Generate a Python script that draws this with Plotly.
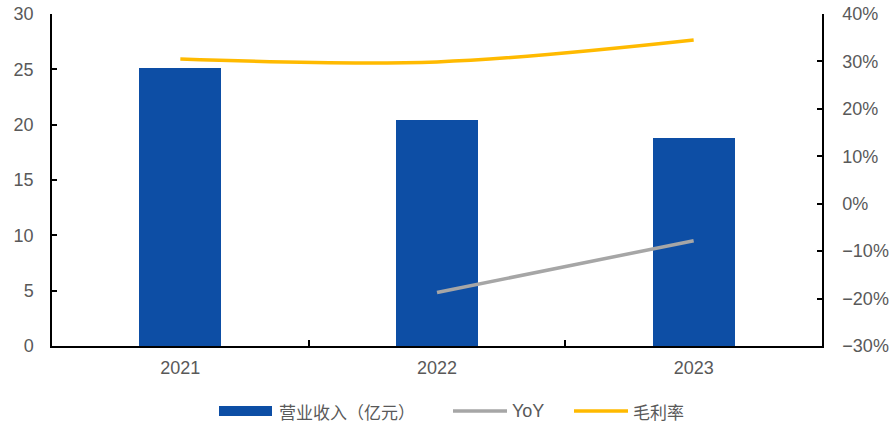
import plotly.graph_objects as go

# Revenue (100 million CNY), YoY growth and gross margin by year
years = ["2021", "2022", "2023"]
revenue = [25.08, 20.40, 18.80]
yoy = [None, -0.187, -0.078]
gross_margin = [0.305, 0.299, 0.345]

legend_names = ["营业收入（亿元）", "YoY", "毛利率"]

BLUE = "#0D4EA5"
GRAY = "#A6A6A6"
GOLD = "#FFBA00"
TEXT = "#595959"
LATIN = "Liberation Sans, Arial, sans-serif"
CJK = "Noto Sans CJK SC, sans-serif"
FS = 18

W, H = 889, 425
ML, MR, MT, MB = 52, 67, 14, 79
PW, PH = W - ML - MR, H - MT - MB

fig = go.Figure()
fig.add_trace(go.Bar(x=years, y=revenue, name=legend_names[0],
                     marker=dict(color=BLUE, line=dict(width=0)), width=0.32))
fig.add_trace(go.Scatter(x=years, y=yoy, name=legend_names[1], yaxis="y2",
                         mode="lines", line=dict(color=GRAY, width=3.5)))
fig.add_trace(go.Scatter(x=years, y=gross_margin, name=legend_names[2], yaxis="y2",
                         mode="lines", line=dict(color=GOLD, width=3.5, shape="spline",
                                                 smoothing=1.0)))

fig.update_layout(
    width=W, height=H,
    margin=dict(l=ML, r=MR, t=MT, b=MB),
    plot_bgcolor="white", paper_bgcolor="white",
    showlegend=False,
    bargap=0,
    font=dict(family=LATIN, size=FS, color=TEXT),
    xaxis=dict(type="category", showline=True, linecolor="black", linewidth=1.5,
               ticks="inside", tickson="boundaries", ticklen=6, tickcolor="black",
               tickwidth=1.5, showgrid=False, ticklabelstandoff=5, automargin=False,
               tickfont=dict(family=LATIN, size=FS, color=TEXT)),
    yaxis=dict(range=[0, 30], dtick=5, showline=True, linecolor="black", linewidth=1.5,
               ticks="inside", ticklen=5, tickcolor="black", tickwidth=1.5,
               showgrid=False, zeroline=False, ticklabelstandoff=13, automargin=False,
               tickfont=dict(family=LATIN, size=FS, color=TEXT)),
    yaxis2=dict(range=[-0.30, 0.40], dtick=0.10, tickformat=".0%", overlaying="y",
                side="right", showline=True, linecolor="black", linewidth=1.5,
                ticks="inside", ticklen=5, tickcolor="black", tickwidth=1.5,
                showgrid=False, zeroline=False, ticklabelstandoff=15, automargin=False,
                tickfont=dict(family=LATIN, size=FS, color=TEXT)),
)


def px_x(px):
    return (px - ML) / PW


def px_y(py):
    return (H - MB - py) / PH


# Custom legend row below the plot
legend_y = 411
swatches = [
    dict(kind="rect", x0=219, x1=272, color=BLUE, tx=277, text=legend_names[0], fontfam=CJK, fs=17),
    dict(kind="line", x0=453, x1=507, color=GRAY, tx=510, text=legend_names[1], fontfam=LATIN, fs=FS),
    dict(kind="line", x0=574, x1=628, color=GOLD, tx=631, text=legend_names[2], fontfam=CJK, fs=17),
]
for s in swatches:
    if s["kind"] == "rect":
        fig.add_shape(type="rect", xref="paper", yref="paper",
                      x0=px_x(s["x0"]), x1=px_x(s["x1"]),
                      y0=px_y(legend_y + 5), y1=px_y(legend_y - 5),
                      fillcolor=s["color"], line=dict(width=0))
    else:
        fig.add_shape(type="line", xref="paper", yref="paper",
                      x0=px_x(s["x0"]), x1=px_x(s["x1"]),
                      y0=px_y(legend_y), y1=px_y(legend_y),
                      line=dict(color=s["color"], width=3.5))
    fig.add_annotation(xref="paper", yref="paper", x=px_x(s["tx"]), y=px_y(legend_y),
                       xanchor="left", yanchor="middle", text=s["text"], showarrow=False,
                       font=dict(family=s["fontfam"], size=s["fs"], color=TEXT))

fig.write_html("out.html")
